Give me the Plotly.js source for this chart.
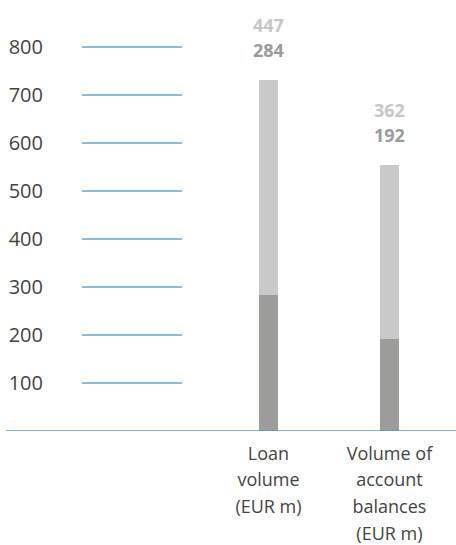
<!DOCTYPE html>
<html><head><meta charset="utf-8">
<script src="https://cdn.plot.ly/plotly-3.0.1.min.js"></script>
<style>html,body{margin:0;padding:0;background:#fff}</style>
</head><body><div id="chart" style="width:456px;height:545px"></div>
<script>
const categories = ['Loan volume', 'Volume of account balances'];
const categoryLines = [['Loan', 'volume', '(EUR m)'], ['Volume of', 'account', 'balances', '(EUR m)']];
const darkValues = [284, 192];
const lightValues = [447, 362];
const tickValues = [100, 200, 300, 400, 500, 600, 700, 800];
const tickLabels = ['100', '200', '300', '400', '500', '600', '700', '800'];

const DARK = '#9c9c9b', LIGHT = '#c8c9c8', BLUE = '#5ea6e2';
const FONT = '"Open Sans", "DejaVu Sans", sans-serif';

const ticktext = categoryLines.map(lines => lines.map(s => '<span style="font-size:18px">' + s + '</span>').join('<br>'));

const traces = [
  {type: 'bar', x: categories, y: darkValues, marker: {color: DARK}, width: 0.157, hoverinfo: 'none'},
  {type: 'bar', x: categories, y: lightValues, marker: {color: LIGHT}, width: 0.157, hoverinfo: 'none'}
];

const shapes = tickValues.map(v => ({type: 'line', xref: 'paper', yref: 'y', x0: 0.0878, x1: 0.3317, y0: v, y1: v, line: {color: BLUE, width: 1.5}, layer: 'below'}));
shapes.push({type: 'line', xref: 'paper', yref: 'y', x0: -0.0976, x1: 1, y0: 0, y1: 0, line: {color: '#4f94d6', width: 1.5}, layer: 'above'});

const annotations = [];
categories.forEach((c, i) => {
  const total = darkValues[i] + lightValues[i];
  annotations.push({x: c, y: total, yref: 'y', text: String(lightValues[i]), showarrow: false, yanchor: 'middle', yshift: 55, font: {family: FONT, size: 18, color: '#c6c6c6', weight: 'bold'}});
  annotations.push({x: c, y: total, yref: 'y', text: String(darkValues[i]), showarrow: false, yanchor: 'middle', yshift: 30, font: {family: FONT, size: 18, color: '#9a9a9a', weight: 'bold'}});
});

const layout = {
  width: 456, height: 545,
  margin: {l: 46, r: 0, t: 0, b: 114, pad: 0},
  paper_bgcolor: '#fff', plot_bgcolor: '#fff',
  barmode: 'stack', showlegend: false,
  font: {family: FONT, color: '#444'},
  xaxis: {type: 'category', range: [-1.839, 1.55], tickvals: categories, ticktext: ticktext, showgrid: false, zeroline: false, showline: false, ticks: '', tickfont: {size: 20.6, color: '#444', family: FONT}, ticklabelstandoff: 7, fixedrange: true},
  yaxis: {range: [0, 897.9], tickvals: tickValues, ticktext: tickLabels, showgrid: false, zeroline: false, showline: false, ticks: '', tickfont: {size: 20, color: '#444', family: FONT}, ticklabelstandoff: 2, fixedrange: true},
  shapes: shapes,
  annotations: annotations
};

Plotly.newPlot('chart', traces, layout, {displayModeBar: false, staticPlot: true});
</script></body></html>
